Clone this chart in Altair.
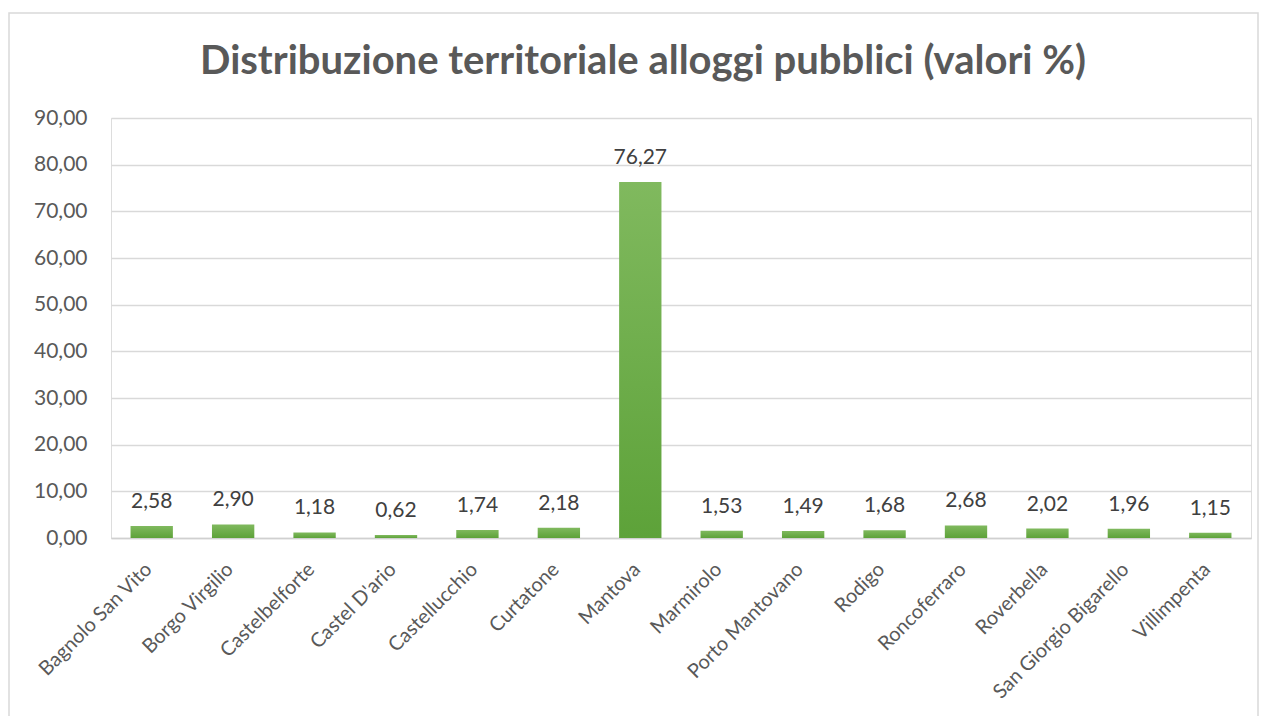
import altair as alt
import pandas as pd

comuni = ["Bagnolo San Vito", "Borgo Virgilio", "Castelbelforte", "Castel D'ario",
          "Castellucchio", "Curtatone", "Mantova", "Marmirolo", "Porto Mantovano",
          "Rodigo", "Roncoferraro", "Roverbella", "San Giorgio Bigarello", "Villimpenta"]
valori = [2.58, 2.90, 1.18, 0.62, 1.74, 2.18, 76.27, 1.53, 1.49, 1.68, 2.68, 2.02, 1.96, 1.15]
y_ticks = [0, 10, 20, 30, 40, 50, 60, 70, 80, 90]
titolo = "Distribuzione territoriale alloggi pubblici (valori %)"

df = pd.DataFrame({"comune": comuni, "valore": valori,
                   "etichetta": [f"{v:.2f}".replace(".", ",") for v in valori]})
df_title = pd.DataFrame({"t": [titolo]})

FONT = "Lato"
GREY = "#595959"

x_enc = alt.X("comune:N", sort=comuni, title=None,
              scale=alt.Scale(paddingInner=0.48, paddingOuter=0.24),
              axis=alt.Axis(labelAngle=-45, labelAlign="right", labelBaseline="middle",
                            labelFontSize=20, labelColor=GREY, labelFont=FONT,
                            labelPadding=28, labelOffset=-3, ticks=False, domain=True,
                            domainColor="#d0d0d0", domainWidth=1.5, labelLimit=300))
y_enc = alt.Y("valore:Q", title=None,
              scale=alt.Scale(domain=[0, 90], nice=False),
              axis=alt.Axis(values=y_ticks, labelExpr="replace(format(datum.value, '.2f'), '.', ',')",
                            labelFontSize=21, labelColor=GREY, labelFont=FONT,
                            labelPadding=24, ticks=False, domain=False,
                            grid=True, gridColor="#d9d9d9", gridWidth=1.3))

frame = alt.Chart(df_title).mark_rect(fillOpacity=0, fill="white", stroke="#d9d9d9", strokeWidth=1.5).encode(
    x=alt.value(-102), x2=alt.value(1147), y=alt.value(-105), y2=alt.value(620))

title = alt.Chart(df_title).mark_text(font=FONT, fontSize=40, fontWeight="bold", color=GREY,
                                      align="center", baseline="alphabetic").encode(
    x=alt.value(532), y=alt.value(-44), text="t:N")

bars = alt.Chart(df).mark_bar(
    color=alt.Gradient(gradient="linear", x1=0, x2=0, y1=0, y2=1,
                       stops=[alt.GradientStop(offset=0, color="#80b95e"),
                              alt.GradientStop(offset=1, color="#5da239")])
).encode(x=x_enc, y=y_enc)

labels = alt.Chart(df).mark_text(dy=-14, fontSize=21, font=FONT, color="#404040",
                                 baseline="bottom").encode(
    x=alt.X("comune:N", sort=comuni), y="valore:Q", text="etichetta:N")

chart = alt.layer(frame, title, bars, labels).properties(
    width=1140, height=420,
    autosize=alt.AutoSizeParams(type="none"),
    padding={"left": 103, "top": 110, "right": 8, "bottom": 178},
).configure_view(stroke=None).configure(background="white")

chart.save("out.html", embed_options={"renderer": "svg", "actions": False})
